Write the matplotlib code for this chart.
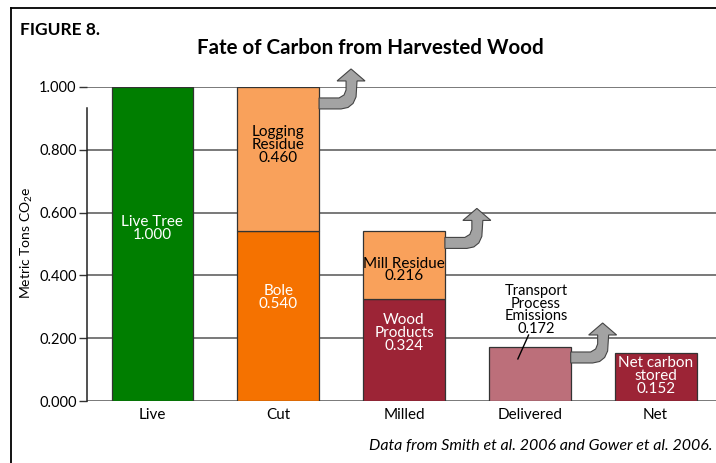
import matplotlib
matplotlib.use('Agg')
import matplotlib.pyplot as plt
from matplotlib.patches import Polygon
from matplotlib.lines import Line2D

plt.rcParams['font.family'] = ['Lato', 'DejaVu Sans']
plt.rcParams['mathtext.default'] = 'regular'

# Datos
categorias = ['Live', 'Cut', 'Milled', 'Delivered', 'Net']
valores_base = [1.000, 0.540, 0.324, 0.172, 0.152]
etiquetas_base = ['Live Tree', 'Bole', 'Wood\nProducts', '', 'Net carbon\nstored']
valores_sup = [0.0, 0.460, 0.216, 0.0, 0.0]
etiquetas_sup = ['', 'Logging\nResidue', 'Mill Residue', '', '']
etiqueta_transporte = 'Transport\nProcess\nEmissions'
ticks_y = [0.0, 0.2, 0.4, 0.6, 0.8, 1.0]

# Estilo
colores_base = ['#007E00', '#F57200', '#9C2436', '#BC6F7A', '#9C2436']
colores_sup = ['none', '#F9A15B', '#F9A15B', 'none', 'none']
texto_base = ['white', 'white', 'white', 'black', 'white']
y_etiqueta_base = [0.55, 0.33, 0.217, 0.0, 0.08]
y_etiqueta_sup = [0.0, 0.815, 0.417, 0.0, 0.0]
flechas = [1, 2, 3]           # barras con flecha
desfase_flecha = [0, -11, -6, -5, 0]  # px bajo el tope de la barra
ancho = 0.65

fig = plt.figure(figsize=(7.16, 4.63), dpi=100)
ax = fig.add_axes([0.1215, 0.1339, 0.8785, 0.6783])
ax.set_xlim(-0.52, 4.48)
ax.set_ylim(0, 1.0)

for y in ticks_y:
    ax.axhline(y, color='#555555', linewidth=1.1, zorder=1)

x = list(range(len(categorias)))
ax.bar(x, valores_base, width=ancho, color=colores_base, edgecolor='#333333',
       linewidth=0.9, zorder=3)
ax.bar(x, valores_sup, width=ancho, bottom=valores_base,
       color=colores_sup, edgecolor=['none' if v == 0 else '#333333' for v in valores_sup],
       linewidth=0.9, zorder=3)

for i in x:
    if etiquetas_base[i]:
        ax.text(i, y_etiqueta_base[i], f'{etiquetas_base[i]}\n{valores_base[i]:.3f}',
                ha='center', va='center', color=texto_base[i], fontsize=11,
                linespacing=0.9, zorder=5)
    if etiquetas_sup[i]:
        ax.text(i, y_etiqueta_sup[i], f'{etiquetas_sup[i]}\n{valores_sup[i]:.3f}',
                ha='center', va='center', color='black', fontsize=11,
                linespacing=0.9, zorder=5)

# Etiqueta de emisiones de transporte
ax.text(3.05, 0.29, f'{etiqueta_transporte}\n{valores_base[3]:.3f}', ha='center',
        va='center', fontsize=10.5, linespacing=0.88, zorder=5)
ax.plot([2.99, 2.905], [0.21, 0.134], color='black', linewidth=1, zorder=5)

# Flechas grises
px_x = 1 / 126.0
px_y = 1 / 314.0
forma = [(0, 0), (0, -11), (22, -11), (29, -9.5), (34, -5.5), (37, 1), (38, 17),
         (46, 17), (32, 29), (18, 17), (27, 17), (27, 8), (25, 3), (20, 0)]
for i in flechas:
    x0 = i + ancho / 2
    y0 = valores_base[i] + valores_sup[i] + desfase_flecha[i] * px_y
    pts = [(x0 + dx * px_x, y0 + dy * px_y) for dx, dy in forma]
    ax.add_patch(Polygon(pts, closed=True, facecolor='#A3A3A3', edgecolor='#444444',
                         linewidth=0.8, zorder=4, clip_on=False))

ax.set_yticks(ticks_y)
ax.set_yticklabels([f'{v:.3f}' for v in ticks_y], fontsize=10.5)
ax.set_xticks(x)
ax.set_xticklabels(categorias, fontsize=11)
ax.tick_params(axis='x', length=0, pad=5)
ax.tick_params(axis='y', length=6, width=1, color='#333333', pad=1.5)
for s in ['top', 'right', 'bottom']:
    ax.spines[s].set_visible(False)
ax.spines['left'].set_bounds(0, 0.933)
ax.spines['left'].set_linewidth(1.1)
ax.spines['left'].set_color('#222222')

fig.text(0.037, 0.475, 'Metric Tons CO$_2$e', rotation=90, ha='center', va='center',
         fontsize=10)

fig.text(0.517, 0.897, 'Fate of Carbon from Harvested Wood', ha='center', va='center',
         fontsize=14.8, fontweight='bold')
fig.text(0.028, 0.935, 'FIGURE 8.', ha='left', va='center', fontsize=12.5,
         fontweight='bold')
fig.text(0.995, 0.037, 'Data from Smith et al. 2006 and Gower et al. 2006.', ha='right',
         va='center', fontsize=11.5, style='italic')

# Marco
fig.add_artist(Line2D([0.0155, 0.0155], [0.0, 0.983], transform=fig.transFigure,
                      color='black', linewidth=1.3))
fig.add_artist(Line2D([0.0155, 1.0], [0.983, 0.983], transform=fig.transFigure,
                      color='black', linewidth=1.3))

fig.savefig('out.png', dpi=100)
plt.close(fig)
